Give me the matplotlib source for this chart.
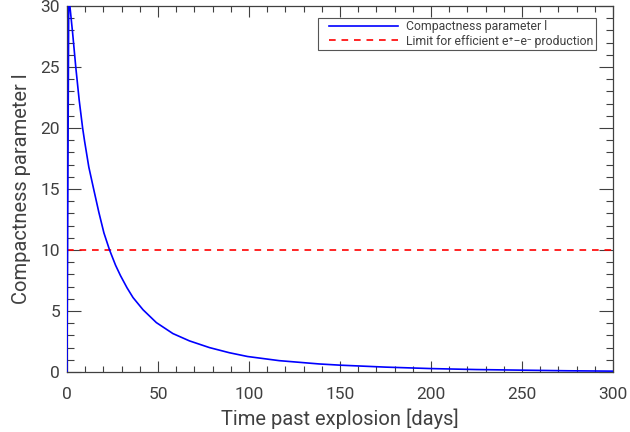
import numpy as np
import matplotlib.pyplot as plt
from matplotlib.ticker import MultipleLocator
from matplotlib.patches import Rectangle
from matplotlib.transforms import IdentityTransform

# compactness parameter vs. time since explosion (days)
t_days = [0, 1.0, 1.6, 3.1, 4.9, 6.7, 8.6, 9.7, 12.0, 14.8, 17.5, 20.3, 23.4,
          26.7, 29.4, 33.0, 36.3, 41.8, 49.1, 58.2, 67.3, 78.3, 89.2, 99.2,
          116.6, 138.5, 150, 175, 200, 225, 250, 275, 300]
l_comp = [0, 31.5, 30.0, 27.8, 24.9, 22.3, 20.0, 18.9, 16.8, 14.9, 13.1, 11.4,
          10.0, 8.75, 7.9, 6.9, 6.1, 5.1, 4.05, 3.15, 2.55, 2.0, 1.58, 1.27,
          0.93, 0.66, 0.56, 0.4, 0.28, 0.2, 0.15, 0.1, 0.07]
l_limit = 10

txt = '#404040'
plt.rcParams['font.family'] = ['Roboto', 'DejaVu Sans']

fig = plt.figure(figsize=(6.3, 4.32), dpi=100)
ax = fig.add_axes([0.1063, 0.1389, 0.8667, 0.8472])

ax.plot(t_days, l_comp, color='blue', lw=1.2, label='Compactness parameter l', zorder=3)
ax.axhline(l_limit, color='red', lw=1.2, ls=(0, (4, 3.5)),
           label='Limit for efficient e\u207a\u2212e\u207b production')

ax.set_xlim(0, 300)
ax.set_ylim(0, 30)
ax.xaxis.set_major_locator(MultipleLocator(50))
ax.xaxis.set_minor_locator(MultipleLocator(10))
ax.yaxis.set_major_locator(MultipleLocator(5))
ax.yaxis.set_minor_locator(MultipleLocator(1))

ax.tick_params(which='both', direction='in', top=True, right=True,
               colors=txt, labelcolor=txt, labelsize=12.5, width=0.8)
ax.tick_params(axis='x', which='major', length=8, pad=11)
ax.tick_params(axis='x', which='minor', length=4)
ax.tick_params(axis='y', which='major', length=10, pad=5)
ax.tick_params(axis='y', which='minor', length=5)
for s in ax.spines.values():
    s.set_color(txt)
    s.set_linewidth(0.9)

ax.set_xlabel('Time past explosion [days]', fontsize=14.5, color=txt, labelpad=4.5)
ax.set_ylabel('Compactness parameter l', fontsize=14.5, color=txt, labelpad=7)

leg = ax.legend(loc='upper right', bbox_to_anchor=(596 / 630, 1 - 18 / 432),
                bbox_transform=fig.transFigure, borderaxespad=0,
                fontsize=8.8, frameon=False, handlelength=5.6, handletextpad=0.7,
                borderpad=0.2, labelspacing=0.1, labelcolor=txt)

# frame drawn by hand so the handles get extra room on the left
fig.canvas.draw()
bb = leg.get_window_extent()
fig.add_artist(Rectangle((bb.x0 - 9, bb.y0), bb.width + 9, bb.height,
                         transform=IdentityTransform(), fill=False,
                         edgecolor='#555555', lw=0.8))

fig.savefig('out.png', dpi=100)
